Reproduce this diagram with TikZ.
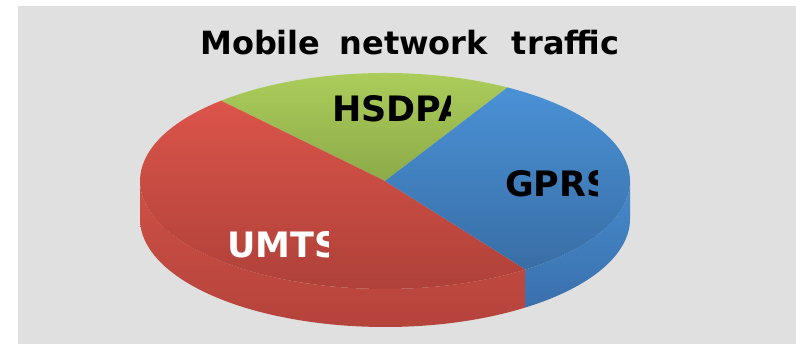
\documentclass[tikz,border=0pt]{standalone}
\usepackage{fontspec}
\setmainfont{DejaVu Sans}
\definecolor{backgray}{RGB}{224,224,224}
\definecolor{greentopA}{RGB}{174,208,92}
\definecolor{greentopB}{RGB}{140,170,72}
\definecolor{bluetopA}{RGB}{74,145,214}
\definecolor{bluetopB}{RGB}{56,110,165}
\definecolor{redtopA}{RGB}{219,84,74}
\definecolor{redtopB}{RGB}{172,64,56}
\definecolor{redsideA}{RGB}{206,80,70}
\definecolor{redsideB}{RGB}{178,66,58}
\definecolor{bluesideA}{RGB}{70,138,205}
\definecolor{bluesideB}{RGB}{58,112,172}

\begin{document}
\begin{tikzpicture}[x=1pt,y=1pt,
    piecut/.style={x radius=245,y radius=108},
    slicelabel/.style={anchor=base west,inner sep=0pt,font=\bfseries\fontsize{35}{40}\selectfont}]
		\useasboundingbox (0,0) rectangle (796,344);
		\fill[white] (0,0) rectangle (796,344);
		\fill[backgray] (18,0) rectangle (796,338);

		%% Title
		\node[anchor=base west,inner sep=0pt,font=\bfseries\fontsize{32}{36}\selectfont]
		  (title) at (200,289) {Mobile\hspace{19pt}network\hspace{24pt}traffic};

		\begin{scope}[shift={(385,163)}]
		%% Sides of the pie
		\shade[top color=redsideA, bottom color=redsideB]
		  (180:245 and 108) arc[start angle=180, end angle=305, piecut]
		  -- ++(0,-38) arc[start angle=305, end angle=180, piecut] -- cycle;
		\shade[top color=bluesideA, bottom color=bluesideB]
		  (-55:245 and 108) arc[start angle=-55, end angle=0, piecut]
		  -- ++(0,-38) arc[start angle=0, end angle=-55, piecut] -- cycle;

		%% Top of the pie
		\shade[top color=greentopA, bottom color=greentopB]
		  (0,0) -- (60:245 and 108) arc[start angle=60, end angle=132, piecut] -- cycle;
		\shade[top color=redtopA, bottom color=redtopB]
		  (0,0) -- (132:245 and 108) arc[start angle=132, end angle=305, piecut] -- cycle;
		\shade[top color=bluetopA, bottom color=bluetopB]
		  (0,0) -- (-55:245 and 108) arc[start angle=-55, end angle=60, piecut] -- cycle;
		\end{scope}

		%% Labels, cut off at the right
		\begin{scope}
		  \clip (0,0) rectangle (450,344);
		  \node[slicelabel] (hsdpa) at (332,222) {HSDPA};
		\end{scope}
		\begin{scope}
		  \clip (0,0) rectangle (597,344);
		  \node[slicelabel] (gprs) at (505,147) {GPRS};
		\end{scope}
		\begin{scope}
		  \clip (0,0) rectangle (328,344);
		  \node[slicelabel,text=white] (umts) at (227,86) {UMTS};
		\end{scope}
	\end{tikzpicture}
\end{document}
